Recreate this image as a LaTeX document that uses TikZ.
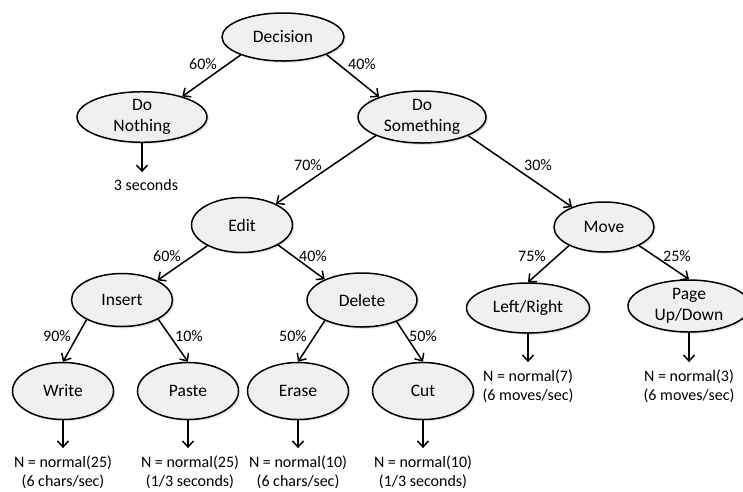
\documentclass[tikz,border=0pt]{standalone}
\usepackage{fontspec}
\setmainfont{Carlito}
\usetikzlibrary{shapes.geometric,arrows.meta,shadows}
\begin{document}
\begin{tikzpicture}[x=1pt,y=-1pt,
  state/.style={ellipse, draw=black, line width=1.5pt, fill=gray!12,
    inner sep=0pt, align=center, font=\fontsize{17.5}{21.5}\selectfont,
    drop shadow={shadow xshift=1.8pt, shadow yshift=-1.8pt, opacity=0.22}},
  prob/.style={font=\fontsize{16}{19}\selectfont, inner sep=0pt},
  outcome/.style={align=center, font=\fontsize{16}{19.5}\selectfont,
    inner xsep=0pt, inner ysep=7pt},
  branch/.style={line width=1.5pt, -{Straight Barb[length=6pt,width=11pt]}}
]
\useasboundingbox (0,0) rectangle (743,491);

% decision tree nodes
\node[state, minimum width=122pt, minimum height=48pt] (dec) at (283,37) {Decision};
\node[state, minimum width=130pt, minimum height=50pt] (nothing) at (142,117) {Do\\Nothing};
\node[state, minimum width=128pt, minimum height=52pt] (something) at (422,117) {Do\\Something};
\node[state, minimum width=101pt, minimum height=55pt] (edit) at (242,225) {Edit};
\node[state, minimum width=100pt, minimum height=50pt] (move) at (604,227) {Move};
\node[state, minimum width=101pt, minimum height=53pt] (insert) at (122,300) {Insert};
\node[state, minimum width=110pt, minimum height=54pt] (delete) at (362,300) {Delete};
\node[state, minimum width=123pt, minimum height=50pt] (lr) at (528,308) {Left/Right};
\node[state, minimum width=122pt, minimum height=52pt] (page) at (689,306) {Page\\Up/Down};
\node[state, minimum width=101pt, minimum height=57pt] (write) at (63,391) {Write};
\node[state, minimum width=101pt, minimum height=57pt] (paste) at (188,391) {Paste};
\node[state, minimum width=101pt, minimum height=57pt] (erase) at (298,391) {Erase};
\node[state, minimum width=101pt, minimum height=57pt] (cut) at (423,391) {Cut};

% branches
\draw[branch] (dec.203) -- (nothing.27);
\draw[branch] (dec.338) -- (something.155);
\draw[branch] (something.202) -- (edit.32);
\draw[branch] (something.338) -- (move.148);
\draw[branch] (edit.211) -- (insert.29);
\draw[branch] (edit.331) -- (delete.151);
\draw[branch] (insert.209) -- (write.north);
\draw[branch] (insert.332) -- (paste.north);
\draw[branch] (delete.209) -- (erase.north);
\draw[branch] (delete.328) -- (cut.north);
\draw[branch] (move.208) -- (lr.north);
\draw[branch] (move.332) -- (page.north);

% branch probabilities
\node[prob] (p1) at (203,64) {60\%};
\node[prob] (p2) at (362,64) {40\%};
\node[prob] (p3) at (308,165) {70\%};
\node[prob] (p4) at (538,165) {30\%};
\node[prob] (p5) at (167,256) {60\%};
\node[prob] (p6) at (313,256) {40\%};
\node[prob] (p7) at (532,256) {75\%};
\node[prob] (p8) at (677,256) {25\%};
\node[prob] (p9) at (57,336) {90\%};
\node[prob] (p10) at (189,336) {10\%};
\node[prob] (p11) at (293,336) {50\%};
\node[prob] (p12) at (423,336) {50\%};

% leaf outcomes
\node[outcome] (o0) at (146,185) {3 seconds};
\node[outcome] (o1) at (63,472) {N = normal(25)\\(6 chars/sec)};
\node[outcome] (o2) at (190,472) {N = normal(25)\\(1/3 seconds)};
\node[outcome] (o3) at (298,472) {N = normal(10)\\(6 chars/sec)};
\node[outcome] (o4) at (423,472) {N = normal(10)\\(1/3 seconds)};
\node[outcome] (o5) at (528,386) {N = normal(7)\\(6 moves/sec)};
\node[outcome] (o6) at (689,386) {N = normal(3)\\(6 moves/sec)};

\draw[branch] (nothing.south) -- (nothing.south |- o0.north);
\draw[branch] (write.south) -- (write.south |- o1.north);
\draw[branch] (paste.south) -- (paste.south |- o2.north);
\draw[branch] (erase.south) -- (erase.south |- o3.north);
\draw[branch] (cut.south) -- (cut.south |- o4.north);
\draw[branch] (lr.south) -- (lr.south |- o5.north);
\draw[branch] (page.south) -- (page.south |- o6.north);
\end{tikzpicture}
\end{document}
